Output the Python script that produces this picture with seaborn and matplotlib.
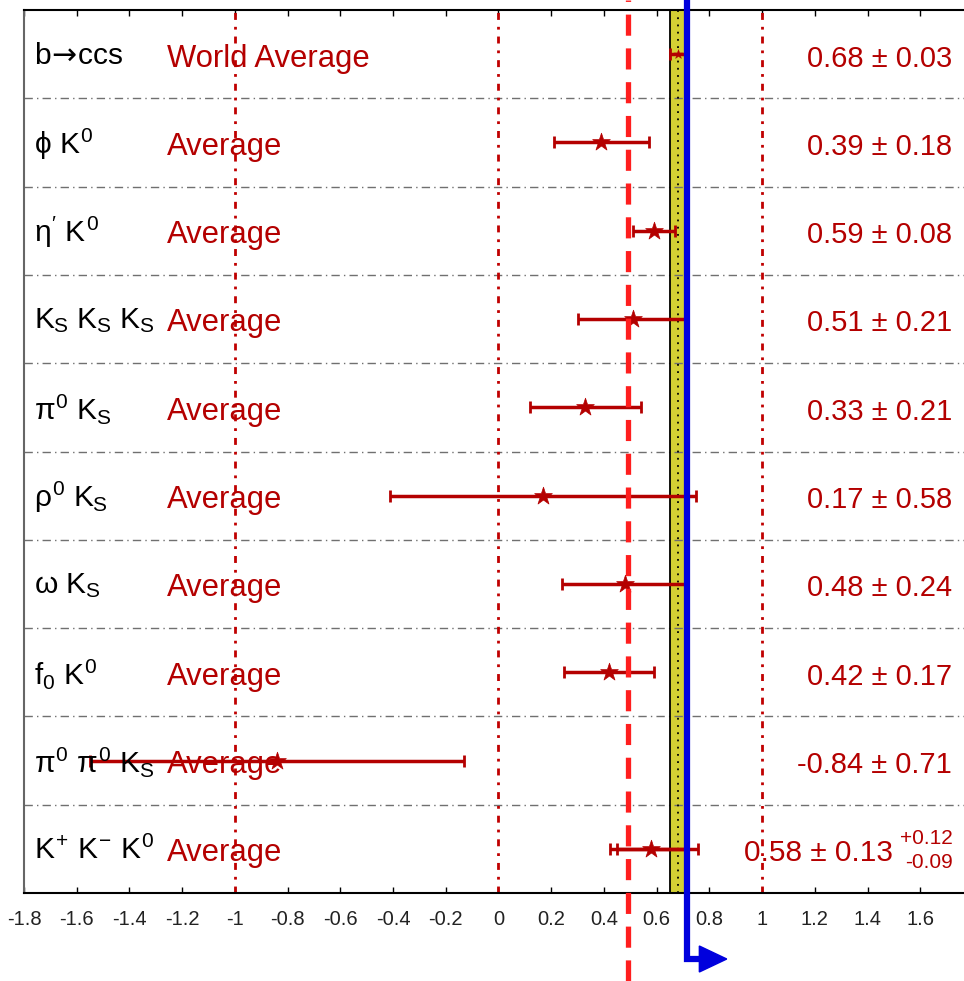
import numpy as np
import pandas as pd
import matplotlib
matplotlib.use("Agg")
import matplotlib.pyplot as plt
import matplotlib.transforms as mtransforms
from matplotlib.patches import Polygon
import seaborn as sns

# ---------------- data ----------------
modes = [r"b$\!\mathsf{\rightarrow}\!$ccs", r"$\phi\ K^0$", r"$\eta'\ K^0$",
         r"$K_S\ K_S\ K_S$", r"$\pi^0\ K_S$", r"$\rho^0\ K_S$", r"$\omega\ K_S$",
         r"$f_0\ K^0$", r"$\pi^0\ \pi^0\ K_S$", r"$K^{+}\ K^{-}\ K^0$"]
labels = ["World Average"] + ["Average"] * 9
values = [0.68, 0.39, 0.59, 0.51, 0.33, 0.17, 0.48, 0.42, -0.84, 0.58]
errors = [0.03, 0.18, 0.08, 0.21, 0.21, 0.58, 0.24, 0.17, 0.71, 0.13]
value_texts = ["0.68 ± 0.03", "0.39 ± 0.18", "0.59 ± 0.08", "0.51 ± 0.21",
               "0.33 ± 0.21", "0.17 ± 0.58", "0.48 ± 0.24", "0.42 ± 0.17",
               "-0.84 ± 0.71", "0.58 ± 0.13"]
kkk_syst_plus = 0.12
kkk_syst_minus = 0.09
world_avg = 0.68
world_err = 0.03
red_line = 0.49
blue_line = 0.716
xticks = [-1.8, -1.6, -1.4, -1.2, -1.0, -0.8, -0.6, -0.4, -0.2, 0.0,
          0.2, 0.4, 0.6, 0.8, 1.0, 1.2, 1.4, 1.6]
xticklabels = ["-1.8", "-1.6", "-1.4", "-1.2", "-1", "-0.8", "-0.6", "-0.4", "-0.2", "0",
               "0.2", "0.4", "0.6", "0.8", "1", "1.2", "1.4", "1.6"]

df = pd.DataFrame({"mode": modes, "value": values, "error": errors,
                   "row": np.arange(len(modes))})

# ---------------- style ----------------
sns.set_theme(style="white")
plt.rcParams["font.family"] = ["Liberation Sans", "DejaVu Sans"]
plt.rcParams["mathtext.fontset"] = "custom"
plt.rcParams["mathtext.rm"] = "Liberation Sans"
plt.rcParams["mathtext.it"] = "Liberation Sans"
plt.rcParams["mathtext.bf"] = "Liberation Sans:bold"
plt.rcParams["mathtext.sf"] = "DejaVu Sans"

W, H = 964, 981
fig = plt.figure(figsize=(W / 100, H / 100), dpi=100)
ax = fig.add_axes([24 / W, (H - 893) / H, 940 / W, (893 - 10) / H])

DARKRED = "#b40000"
ax.set_xlim(-1.8, 1.766)
ax.set_ylim(len(modes) - 0.5, -0.5)

# yellow world-average band
ax.axvspan(world_avg - world_err, world_avg + world_err, color="#d4d034", zorder=1)
for xe in (world_avg - world_err, world_avg + world_err):
    ax.axvline(xe, color="black", lw=1.3, zorder=2)
ax.axvline(world_avg, color="black", lw=1.3, ls=(0, (1, 3)), zorder=2)

# row separators
for r in np.arange(0.5, len(modes) - 0.5, 1.0):
    ax.axhline(r, color="#707070", lw=1.0, ls=(0, (6, 3, 1, 3)), zorder=1)

# reference lines at -1, 0, 1
for xv in (-1, 0, 1):
    ax.axvline(xv, color="#c00000", lw=2.0, ls=(0, (2.5, 2.5, 1, 2.5)), zorder=1)

# error bars
tot_p = np.hypot(errors[-1], kkk_syst_plus)
tot_m = np.hypot(errors[-1], kkk_syst_minus)
ax.errorbar([values[-1]], [df["row"].iloc[-1]], xerr=[[tot_m], [tot_p]], fmt="none",
            ecolor=DARKRED, elinewidth=2.5, capsize=4.5, capthick=2.0, zorder=3)
ax.errorbar(df["value"], df["row"], xerr=df["error"], fmt="none",
            ecolor=DARKRED, elinewidth=2.5, capsize=4.5, capthick=2.0, zorder=3)

sns.scatterplot(data=df.iloc[1:], x="value", y="row", marker="*", s=180, color=DARKRED,
                edgecolor=DARKRED, linewidth=0.5, ax=ax, zorder=4, legend=False)
sns.scatterplot(data=df.iloc[:1], x="value", y="row", marker="*", s=50, color=DARKRED,
                edgecolor=DARKRED, linewidth=0.3, ax=ax, zorder=4, legend=False)

# texts
ytr = ax.get_yaxis_transform()
for i, (m, lab, vt) in enumerate(zip(modes, labels, value_texts)):
    ax.text(0.0106, i + 0.02, m, transform=ytr, ha="left",
            va="center", fontsize=21.5, color="black")
    ax.text(0.152, i + 0.05, lab, transform=ytr, ha="left",
            va="center", fontsize=22.3, color=DARKRED)
    if i < len(modes) - 1:
        ax.text(0.987, i + 0.05, vt, transform=ytr, ha="right",
                va="center", fontsize=21, color=DARKRED)
last = len(modes) - 1
ax.text(0.924, last + 0.05, value_texts[-1], transform=ytr,
        ha="right", va="center", fontsize=21.5, color=DARKRED)
ax.text(0.988, last - 0.12, f"+{kkk_syst_plus:.2f}", transform=ytr,
        ha="right", va="center", fontsize=15, color=DARKRED)
ax.text(0.988, last + 0.16, f"-{kkk_syst_minus:.2f}", transform=ytr,
        ha="right", va="center", fontsize=15, color=DARKRED)

# axes styling
ax.set_xticks(xticks)
ax.set_xticklabels(xticklabels, fontsize=14.5)
ax.set_yticks([])
ax.set_xlabel("")
ax.set_ylabel("")
ax.tick_params(axis="x", direction="in", length=4, width=1, top=True, bottom=True,
               colors="black", pad=12)
for lbl in ax.get_xticklabels():
    lbl.set_color("#222222")
ax.spines["right"].set_visible(False)
ax.spines["top"].set_color("black")
ax.spines["top"].set_linewidth(1.5)
ax.spines["bottom"].set_color("black")
ax.spines["bottom"].set_linewidth(1.5)
ax.spines["left"].set_color("#666666")
ax.spines["left"].set_linewidth(1.5)

# lines extending beyond axes (data x, figure y)
trans = mtransforms.blended_transform_factory(ax.transData, fig.transFigure)
ax.plot([red_line, red_line], [0, 1], transform=trans, color="#ff1e1e", lw=3.8,
        ls=(0, (4, 2.4)), clip_on=False, zorder=5)
y_turn = 1 - 959 / H
x_end = 0.762
ax.plot([blue_line, blue_line, x_end], [1.0, y_turn, y_turn], transform=trans,
        color="#0000dd", lw=4.5, clip_on=False, zorder=6, solid_joinstyle="miter")
tri = Polygon([[x_end, 1 - 946 / H], [x_end, 1 - 972 / H], [0.866, y_turn]],
              closed=True, transform=trans, color="#0000dd", clip_on=False, zorder=6)
ax.add_patch(tri)

fig.savefig("out.png", dpi=100)
